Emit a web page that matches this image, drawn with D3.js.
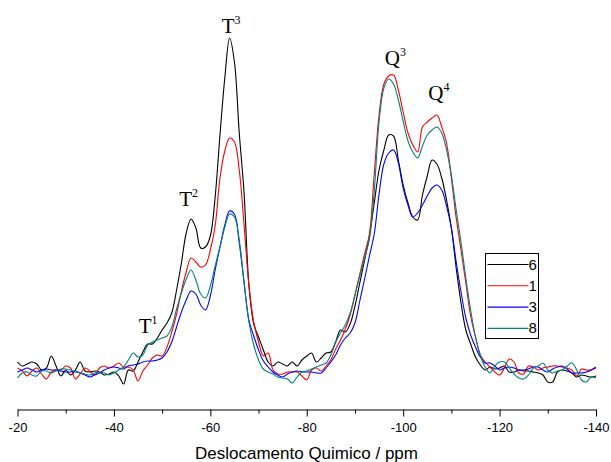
<!DOCTYPE html>
<html>
<head>
<meta charset="utf-8">
<script src="https://cdn.jsdelivr.net/npm/d3@7"></script>
<style>
  body { margin: 0; background: #fff; }
  svg { display: block; }
</style>
</head>
<body>
<div class="svgContainer"></div>
<script>
// chemical shift grid, ppm (-20 .. -140, 1 ppm step)
const PPM = d3.range(-20, -141, -1);

// intensities (arbitrary units), one value per ppm
const S6 = [38,34,36,38,36,30,32,44,34,24,
    30,25,30,38,29,28,29,28,25,26,
    28,24,16,30,29,38,48,56,56,62,
    70,77,87,110,137,167,181,172,152,153,
    164,203,265,322,362,338,267,207,115,76,
    63,50,38,34,38,36,34,38,34,40,
    44,47,38,42,47,48,58,70,68,76,
    94,117,140,164,197,230,250,265,264,240,
    215,197,183,180,205,224,240,236,222,200,
    172,132,97,70,56,43,35,30,33,31,
    32,34,28,28,30,29,29,28,27,25,
    18,18,28,30,29,27,23,25,24,23,
    24];
const S1 = [32,29,24,29,32,26,21,28,30,30,
    34,32,21,26,32,29,25,32,34,32,
    34,37,33,33,30,19,29,35,42,45,
    44,53,68,86,109,128,142,138,133,135,
    150,174,222,249,262,258,230,175,115,78,
    58,44,47,30,26,26,28,28,28,24,
    20,30,32,29,34,40,51,60,71,85,
    105,126,146,166,226,285,316,324,325,310,
    288,267,255,248,273,278,282,285,273,257,
    222,182,150,117,84,63,45,38,33,28,
    25,32,41,38,27,26,34,33,30,32,
    33,34,34,33,32,30,24,31,30,30,
    32];
const S3 = [28,30,32,30,28,30,31,30,30,29,
    28,28,29,27,25,23,25,27,30,32,
    33,32,31,34,35,36,38,39,39,40,
    42,48,58,73,88,100,109,106,95,90,
    104,130,153,175,189,186,157,118,80,64,
    50,39,33,28,25,23,26,28,29,28,
    28,28,27,27,32,38,45,55,62,67,
    77,99,121,144,166,206,236,247,250,237,
    212,195,183,187,195,204,212,215,210,194,
    172,138,108,82,65,53,43,37,37,34,
    30,32,33,32,30,30,31,33,33,30,
    28,31,33,34,31,27,27,27,28,30,
    33];
const S8 = [22,27,28,25,24,29,29,27,29,31,
    31,30,28,27,26,25,27,28,27,25,
    27,30,33,40,47,43,45,55,58,60,
    62,64,73,91,107,121,130,120,106,102,
    114,134,153,173,186,183,160,117,78,55,
    40,31,28,26,23,22,21,17,23,28,
    29,31,33,35,37,45,58,67,75,87,
    105,124,142,161,209,278,312,321,316,300,
    279,259,248,242,254,265,270,273,267,250,
    225,190,158,122,90,63,45,33,27,34,
    38,38,32,26,22,21,25,32,34,37,
    30,27,29,30,34,37,30,20,18,23,
    22];

const SERIES_NAMES = ['6', '1', '3', '8'];
const SERIES_VALUES = [S6, S1, S3, S8];
const SERIES_COLORS = ['#000000', '#ff0000', '#0000ff', '#008080'];

const MAJOR_TICKS = [-20, -40, -60, -80, -100, -120, -140];
const MINOR_TICKS = [-30, -50, -70, -90, -110, -130];

// peak assignments: label, superscript, ppm, height (a.u.)
const PEAK_NAMES = ['T', 'T', 'T', 'Q', 'Q'];
const PEAK_SUPS = ['1', '2', '3', '3', '4'];
const PEAK_PPM = [-47.1, -55.5, -64.3, -98.4, -107.4];
const PEAK_Y = [67, 194, 367, 335, 300];

const WIDTH = 611;
const HEIGHT = 462;

const svg = d3.select('.svgContainer')
    .append('svg')
    .attr('width', WIDTH)
    .attr('height', HEIGHT);

const x = d3.scaleLinear()
    .domain([-20, -140])
    .range([17.5, 596]);

const y = d3.scaleLinear()
    .domain([0, 360])
    .range([400, 40]);

// spectra
const line = d3.line()
    .x((d, i) => x(PPM[i]))
    .y(d => y(d))
    .curve(d3.curveCatmullRom.alpha(0.5));

svg.append('g')
    .selectAll('path')
    .data(SERIES_VALUES)
    .enter()
    .append('path')
    .attr('d', line)
    .attr('fill', 'none')
    .attr('stroke', (d, i) => SERIES_COLORS[i])
    .attr('stroke-width', 1.1);

// x axis (major + minor ticks)
const AXIS_Y = 409.5;
const xAxis = d3.axisBottom(x)
    .tickValues(MAJOR_TICKS)
    .tickFormat(d => d)
    .tickSize(7)
    .tickSizeOuter(0)
    .tickPadding(6);

const axisG = svg.append('g')
    .attr('transform', `translate(0, ${AXIS_Y})`)
    .call(xAxis);
axisG.selectAll('text')
    .attr('fill', '#000')
    .style('font-family', '"Liberation Sans", Arial, sans-serif')
    .style('font-size', '13px');
axisG.selectAll('line, path').attr('stroke', '#000');

svg.append('g')
    .attr('transform', `translate(0, ${AXIS_Y})`)
    .call(d3.axisBottom(x).tickValues(MINOR_TICKS).tickSize(4).tickFormat(''))
    .call(g => g.select('.domain').remove())
    .selectAll('line').attr('stroke', '#000');

svg.append('text')
    .attr('x', 306.5)
    .attr('y', 459)
    .attr('text-anchor', 'middle')
    .style('font-family', '"Liberation Sans", Arial, sans-serif')
    .style('font-size', '17px')
    .text('Deslocamento Quimico / ppm');

// peak labels
const peaks = svg.append('g')
    .selectAll('text')
    .data(PEAK_NAMES)
    .enter()
    .append('text')
    .attr('x', (d, i) => x(PEAK_PPM[i]))
    .attr('y', (d, i) => y(PEAK_Y[i]))
    .attr('text-anchor', 'middle')
    .style('font-family', '"Liberation Serif", "Times New Roman", serif')
    .style('font-size', '21px');
peaks.append('tspan').text(d => d);
peaks.append('tspan')
    .attr('dy', -9)
    .style('font-size', '12px')
    .text((d, i) => PEAK_SUPS[i]);

// legend
const LEG_X = 485.5;
const LEG_Y = 253.5;
const LEG_ROW = 21.3;
const legend = svg.append('g').attr('id', 'legend');

legend.append('rect')
    .attr('x', LEG_X)
    .attr('y', LEG_Y)
    .attr('width', 53)
    .attr('height', 85)
    .attr('fill', '#fff')
    .attr('stroke', '#000');

const rows = legend.selectAll('g.row')
    .data(SERIES_NAMES)
    .enter()
    .append('g')
    .attr('class', 'row')
    .attr('transform', (d, i) => `translate(${LEG_X}, ${LEG_Y + 11 + i * LEG_ROW})`);

rows.append('line')
    .attr('x1', 2)
    .attr('x2', 43)
    .attr('stroke', (d, i) => SERIES_COLORS[i])
    .attr('stroke-width', 1.1);

rows.append('text')
    .attr('x', 43)
    .attr('y', 5)
    .style('font-family', '"Liberation Sans", Arial, sans-serif')
    .style('font-size', '15px')
    .text(d => d);
</script>
</body>
</html>
